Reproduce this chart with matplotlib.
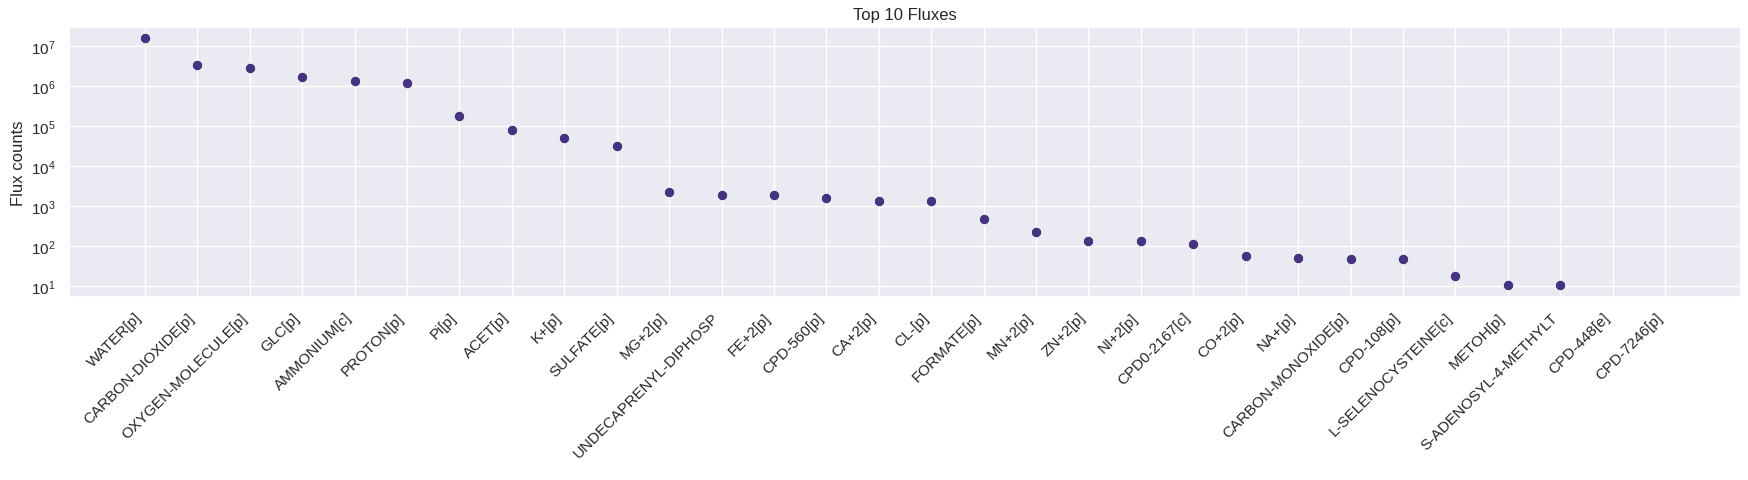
import numpy as np
import matplotlib
matplotlib.use("Agg")
import matplotlib.pyplot as plt
import seaborn as sns

categories = [
    "WATER[p]", "CARBON-DIOXIDE[p]", "OXYGEN-MOLECULE[p]", "GLC[p]", "AMMONIUM[c]",
    "PROTON[p]", "Pi[p]", "ACET[p]", "K+[p]", "SULFATE[p]",
    "MG+2[p]", "UNDECAPRENYL-DIPHOSP", "FE+2[p]", "CPD-560[p]", "CA+2[p]",
    "CL-[p]", "FORMATE[p]", "MN+2[p]", "ZN+2[p]", "NI+2[p]",
    "CPD0-2167[c]", "CO+2[p]", "NA+[p]", "CARBON-MONOXIDE[p]", "CPD-108[p]",
    "L-SELENOCYSTEINE[c]", "METOH[p]", "S-ADENOSYL-4-METHYLT", "CPD-448[e]", "CPD-7246[p]",
]
flux_counts = [
    1.55e7, 3.29e6, 2.77e6, 1.65e6, 1.31e6,
    1.17e6, 1.76e5, 7.9e4, 4.96e4, 3.13e4,
    2.22e3, 1.87e3, 1.87e3, 1.57e3, 1.32e3,
    1.32e3, 471, 223, 133, 133,
    112, 56, 50, 47, 47,
    17.8, 10.6, 10.6, np.nan, np.nan,
]

sns.set_theme(style="darkgrid", context="notebook")
plt.rcParams["font.family"] = ["Liberation Sans", "DejaVu Sans"]

fig = plt.figure(figsize=(17.49, 4.81), dpi=100)
ax = fig.add_axes([69 / 1749, 1 - 297.7 / 481, (1741 - 69) / 1749, (297.7 - 28) / 481])

x = np.arange(len(categories))
ax.scatter(x, flux_counts, s=55, color="#46337f", edgecolor="white", linewidth=0.5, zorder=3)
ax.set_yscale("log")
ax.set_xticks(x)
ax.set_xticklabels(categories, rotation=45, ha="right", fontsize=11)
ax.tick_params(axis="y", labelsize=11)
ax.set_ylabel("Flux counts", fontsize=12)
ax.set_title("Top 10 Fluxes", fontsize=12)
ax.set_xlim(-1.45, len(categories) - 1 + 1.45)
ax.set_ylim(10 ** 0.74, 10 ** 7.474)
ax.minorticks_off()

fig.savefig("out.png", dpi=100)
